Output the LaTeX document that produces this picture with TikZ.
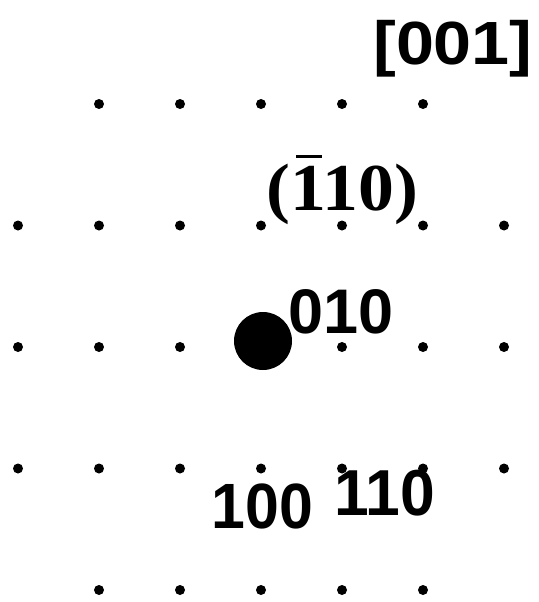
\documentclass[tikz,border=0pt]{standalone}
\usepackage[no-math]{fontspec}
\setmainfont{Liberation Sans}
\newfontfamily\planefont{Liberation Serif}
\newcommand\barone{\rlap{\kern0.08em\rule[0.78em]{0.36em}{0.035em}}1}
\begin{document}
\begin{tikzpicture}[x=1pt, y=-1pt,
	spot/.style={circle, fill=black, inner sep=0pt, minimum size=10pt},
	beam/.style={circle, fill=black, inner sep=0pt, minimum size=58pt},
	miller/.style={inner sep=0pt, anchor=base, font=\bfseries}]
	\useasboundingbox (0,0) rectangle (538,602);
	% Reciprocal lattice spots:
	\foreach \i in {1,...,5} {
		\node[spot] (s-\i-0) at (18+81*\i, 104) {};
		\node[spot] (s-\i-4) at (18+81*\i, 590) {};
	}
	\foreach \j in {1,2,3} {
		\foreach \i in {0,...,6} {
			\node[spot] (s-\i-\j) at (18+81*\i, 104+121.5*\j) {};
		}
	}
	% Transmitted beam:
	\node[beam] (o) at (263, 341) {};
	% Labels:
	\node[miller] (zone) at (453, 64) {\fontsize{61}{61}\selectfont\scalebox{1.12}[1]{[001]}};
	\node[miller] (plane) at (342.5, 210) {\fontsize{67}{67}\planefont\bfseries\selectfont\scalebox{1.07}[1]{(\barone 10)}};
	\node[miller] (g010) at (341, 333) {\fontsize{63}{63}\selectfont 010};
	\node[miller] (g100) at (262.5, 528) {\fontsize{64}{64}\selectfont\scalebox{0.95}[1]{100}};
	\node[miller] (g110) at (385, 515) {\fontsize{65}{65}\selectfont\scalebox{0.96}[1]{110}};
\end{tikzpicture}
\end{document}
